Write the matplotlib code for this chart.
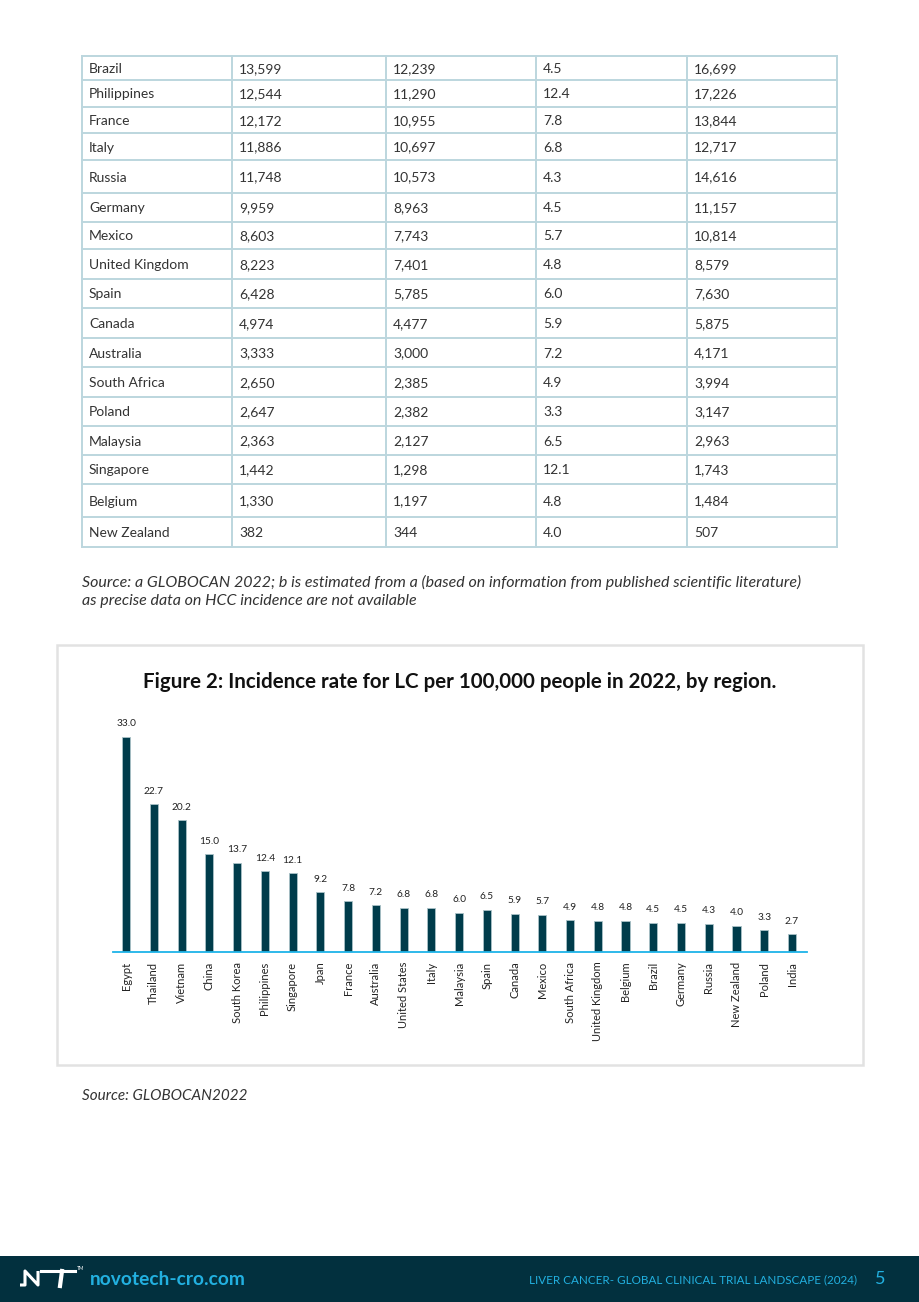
import matplotlib
matplotlib.use("Agg")
import matplotlib.pyplot as plt
from matplotlib.patches import Rectangle

plt.rcParams['font.family'] = ['Lato', 'DejaVu Sans']

# table (continuation from previous page)
table_countries = ["Brazil", "Philippines", "France", "Italy", "Russia", "Germany", "Mexico",
                   "United Kingdom", "Spain", "Canada", "Australia", "South Africa", "Poland",
                   "Malaysia", "Singapore", "Belgium", "New Zealand"]
col_cases = ["13,599", "12,544", "12,172", "11,886", "11,748", "9,959", "8,603", "8,223",
             "6,428", "4,974", "3,333", "2,650", "2,647", "2,363", "1,442", "1,330", "382"]
col_hcc = ["12,239", "11,290", "10,955", "10,697", "10,573", "8,963", "7,743", "7,401",
           "5,785", "4,477", "3,000", "2,385", "2,382", "2,127", "1,298", "1,197", "344"]
col_rate = ["4.5", "12.4", "7.8", "6.8", "4.3", "4.5", "5.7", "4.8", "6.0", "5.9", "7.2",
            "4.9", "3.3", "6.5", "12.1", "4.8", "4.0"]
col_deaths = ["16,699", "17,226", "13,844", "12,717", "14,616", "11,157", "10,814", "8,579",
              "7,630", "5,875", "4,171", "3,994", "3,147", "2,963", "1,743", "1,484", "507"]

# figure 2 data
regions = ["Egypt", "Thailand", "Vietnam", "China", "South Korea", "Philippines", "Singapore",
           "Jpan", "France", "Australia", "United States", "Italy", "Malaysia", "Spain",
           "Canada", "Mexico", "South Africa", "United Kingdom", "Belgium", "Brazil",
           "Germany", "Russia", "New Zealand", "Poland", "India"]
rates = [33.0, 22.7, 20.2, 15.0, 13.7, 12.4, 12.1, 9.2, 7.8, 7.2, 6.8, 6.8, 6.0, 6.5,
         5.9, 5.7, 4.9, 4.8, 4.8, 4.5, 4.5, 4.3, 4.0, 3.3, 2.7]

W, H = 920, 1302
fig = plt.figure(figsize=(W / 100, H / 100), dpi=100)

# page overlay in pixel coords
page = fig.add_axes([0, 0, 1, 1])
page.set_xlim(0, W)
page.set_ylim(H, 0)
page.axis('off')

# --- table ---
col_x = [82, 232, 386, 536, 687, 837]
row_y = [55.5, 80, 106.5, 133, 160, 193, 221.5, 249, 279, 308, 338, 367, 397, 426, 455, 484, 517, 547]
grid_col = '#bcd6de'
for x in col_x:
    page.plot([x, x], [row_y[0], row_y[-1]], color=grid_col, lw=1.4)
for y in row_y:
    page.plot([col_x[0], col_x[-1]], [y, y], color=grid_col, lw=1.4)

columns = [table_countries, col_cases, col_hcc, col_rate, col_deaths]
for c, vals in enumerate(columns):
    for r, v in enumerate(vals):
        yc = (row_y[r] + row_y[r + 1]) / 2
        page.text(col_x[c] + 7, yc, v, fontsize=10, color='#333333', va='center_baseline', ha='left')

page.text(82, 581, "Source: a GLOBOCAN 2022; b is estimated from a (based on information from published scientific literature)",
          fontsize=11.5, style='italic', color='#333333', va='center_baseline')
page.text(82, 600, "as precise data on HCC incidence are not available",
          fontsize=11.5, style='italic', color='#333333', va='center_baseline')

# --- chart box ---
page.add_patch(Rectangle((57, 645), 806, 420, fill=False, edgecolor='#e2e2e2', lw=1.8))
page.text(460, 680, "Figure 2: Incidence rate for LC per 100,000 people in 2022, by region.",
          fontsize=14.8, fontweight='bold', color='#111111', ha='center', va='center_baseline')

page.text(82, 1094, "Source: GLOBOCAN2022", fontsize=11, style='italic', color='#333333', va='center_baseline')

# --- footer ---
page.add_patch(Rectangle((0, 1256), W, 46, color='#02303e', lw=0))
# simple NT logo
page.plot([20, 25, 25, 38, 38], [1285, 1285, 1271, 1285, 1271], color='white', lw=2.2, solid_capstyle='butt')
page.plot([41, 75], [1271, 1271], color='white', lw=2.2)
page.plot([62, 60], [1271, 1286], color='white', lw=3)
page.text(77, 1268, "TM", fontsize=3.5, color='white', va='center')
page.text(90, 1278, "novotech-cro.com", fontsize=13.8, fontweight='bold', color='#22b0e0', va='center_baseline')
page.text(857, 1279, "LIVER CANCER- GLOBAL CLINICAL TRIAL LANDSCAPE (2024)", fontsize=8.4,
          color='#22b0e0', ha='right', va='center_baseline')
page.text(875, 1278, "5", fontsize=13, color='#22b0e0', va='center_baseline')

# --- bar chart ---
ax_left, ax_right = 113, 807
ax_top, ax_bottom = 700, 952
ax = fig.add_axes([ax_left / W, 1 - ax_bottom / H, (ax_right - ax_left) / W, (ax_bottom - ax_top) / H])
x = list(range(len(regions)))
ax.bar(x, rates, width=0.29, color='#003c4b', edgecolor='#a9c1c7', linewidth=0.6)
for xi, v in zip(x, rates):
    ax.text(xi, v + 1.3, f"{v:.1f}", ha='center', va='bottom', fontsize=7.3, color='#222222')
ax.set_xlim(-0.47, 24.54)
ax.set_ylim(0, (ax_bottom - ax_top) / 6.52)
ax.set_xticks(x)
ax.set_xticklabels(regions, rotation=90, fontsize=8, color='#222222')
ax.tick_params(axis='x', length=0, pad=7)
ax.set_yticks([])
for s in ['top', 'right', 'left']:
    ax.spines[s].set_visible(False)
ax.spines['bottom'].set_color('#1eb3e8')
ax.spines['bottom'].set_linewidth(1.3)
ax.patch.set_alpha(0)

fig.savefig("out.png", dpi=100)
